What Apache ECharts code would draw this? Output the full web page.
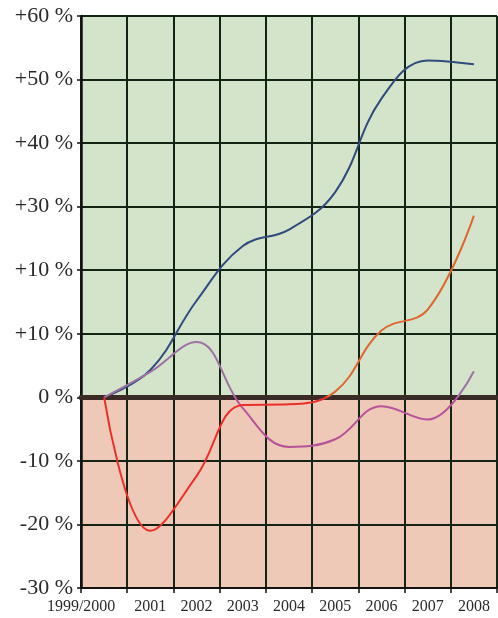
<!DOCTYPE html>
<html>
<head>
<meta charset="utf-8">
<script src="https://cdn.jsdelivr.net/npm/echarts@6/dist/echarts.min.js"></script>
<style>html,body{margin:0;padding:0;background:#fff}#c{width:498px;height:618px}</style>
</head>
<body>
<div id="c"></div>
<script>
const categories = ["1999/2000","2001","2002","2003","2004","2005","2006","2007","2008"];
const blueSeries   = [0, 4.3, 15.2, 23.8, 26.4, 32.3, 47.0, 53.0, 52.4];
const purpleSeries = [0, 4.0, 8.7, -1.7, -7.8, -6.6, -1.4, -3.5, 4.1];
const redSeries    = [0, -21.0, -12.4, -1.2, -1.1, 0.9, 10.5, 13.8, 28.6];
const yTickLabels = {"-30":"-30 %","-20":"-20 %","-10":"-10 %","0":"0 %","10":"+10 %","20":"+10 %","30":"+30 %","40":"+40 %","50":"+50 %","60":"+60 %"};

const GREEN = '#d4e4cb', SALMON = '#efc9b7';
const chart = echarts.init(document.getElementById('c'), null, {renderer:'canvas'});
const font = "Liberation Serif";
const SM = 0.4;
chart.setOption({
  animation:false,
  grid:{left:81,right:1,top:16,bottom:30},
  xAxis:[{
    type:'category', data:categories, boundaryGap:true,
    axisLine:{show:true,onZero:false,lineStyle:{color:'#111',width:2}},
    axisTick:{show:true,length:5,interval:0,lineStyle:{color:'#111',width:1.5}},
    splitLine:{show:true,interval:0,lineStyle:{color:'#142414',width:2}},
    axisLabel:{interval:0,fontFamily:font,fontSize:16,color:'#2a2a2a',margin:11,
      formatter:function(v,i){return i===0?'{f|'+v+'}':v;},
      rich:{f:{fontFamily:font,fontSize:16,color:'#2a2a2a',padding:[0,46,0,0]}}}
  },{
    type:'category', data:categories, boundaryGap:true, position:'bottom',
    axisLine:{show:true,onZero:true,lineStyle:{color:'#3a2b27',width:5}},
    axisTick:{show:false}, axisLabel:{show:false}, splitLine:{show:false}, z:4
  }],
  yAxis:{
    type:'value', min:-30, max:60, interval:10,
    axisLine:{show:true,lineStyle:{color:'#111',width:2.5}},
    axisTick:{show:true,length:4,lineStyle:{color:'#111',width:1.5}},
    splitLine:{show:true,lineStyle:{color:'#142414',width:2}},
    splitArea:{show:true,areaStyle:{color:[SALMON,SALMON,SALMON,GREEN,GREEN,GREEN,GREEN,GREEN,GREEN]}},
    axisLabel:{fontFamily:font,fontSize:22,color:'#2a2a2a',margin:8,
      formatter:function(v){return yTickLabels[String(v)];}}
  },
  visualMap:[
    {type:'piecewise',show:false,seriesIndex:1,dimension:1,
     pieces:[{min:-100,max:0,color:'#b5529a'},{min:0,max:100,color:'#9c72a3'}]},
    {type:'piecewise',show:false,seriesIndex:2,dimension:1,
     pieces:[{min:-100,max:0,color:'#ea2f2a'},{min:0,max:100,color:'#df6630'}]}
  ],
  series:[
    {type:'line',data:blueSeries,smooth:SM,showSymbol:false,z:3,
     lineStyle:{color:'#2f4a7b',width:2},itemStyle:{color:'#2f4a7b'}},
    {type:'line',data:purpleSeries,smooth:SM,showSymbol:false,z:4,
     lineStyle:{width:2}},
    {type:'line',data:redSeries,smooth:SM,showSymbol:false,z:5,
     lineStyle:{width:2}}
  ]
});
</script>
</body>
</html>
